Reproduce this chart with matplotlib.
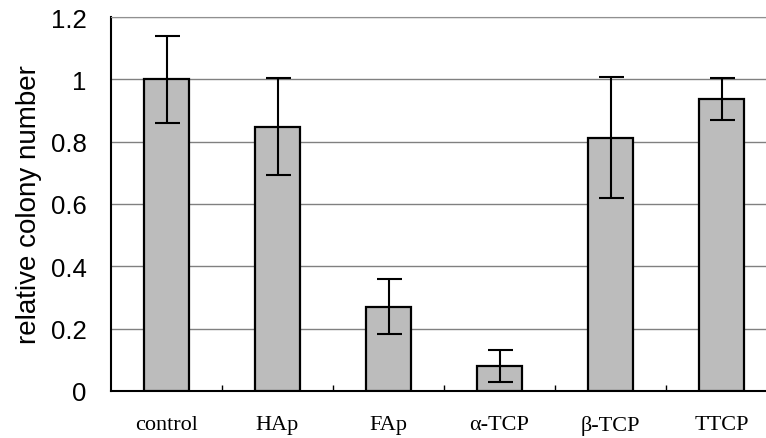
import numpy as np
import matplotlib.pyplot as plt

groups = ['control', 'HAp', 'FAp', 'α-TCP', 'β-TCP', 'TTCP']
colony = [1.0, 0.848, 0.27, 0.079, 0.813, 0.936]
err = [0.14, 0.155, 0.088, 0.051, 0.193, 0.068]

fig = plt.figure(figsize=(7.66, 4.39), dpi=100)
ax = fig.add_axes([111/766, 47/439, 666/766, 374/439])

x = np.arange(len(groups))
ax.bar(x, colony, width=0.4, color='#bcbcbc', edgecolor='black', linewidth=1.6, zorder=3)
ax.errorbar(x, colony, yerr=err, fmt='none', ecolor='black', elinewidth=1.5,
            capsize=9, capthick=1.5, zorder=4)

ax.set_xlim(-0.5, len(groups) - 0.5)
ax.set_ylim(0, 1.2)
ax.set_yticks(np.arange(0, 1.21, 0.2))
ax.set_yticklabels(['0', '0.2', '0.4', '0.6', '0.8', '1', '1.2'],
                   family='Liberation Sans', fontsize=18.5)
ax.yaxis.grid(True, color='#808080', linewidth=1.0, zorder=0)
ax.tick_params(axis='y', length=0, pad=17.5)

ax.set_xticks(x)
ax.set_xticklabels(groups, family='Liberation Serif', fontsize=16)
ax.set_xticks(np.arange(0.5, len(groups) - 0.5), minor=True)
ax.tick_params(axis='x', which='major', length=0, pad=17)
ax.tick_params(axis='x', which='minor', direction='in', length=4, width=1)

ax.set_ylabel('relative colony number', family='Liberation Sans', fontsize=20, labelpad=6)

ax.spines['left'].set_linewidth(1.5)
ax.spines['bottom'].set_linewidth(1.5)
ax.spines['top'].set_color('#909090')
ax.spines['top'].set_linestyle((0, (3, 1)))
ax.spines['right'].set_visible(False)

fig.savefig('out.png', dpi=100)
